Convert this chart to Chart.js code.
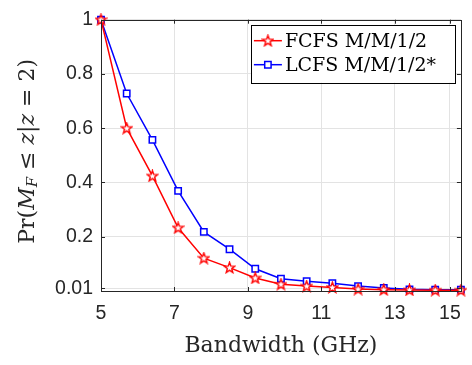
<!DOCTYPE html>
<html>
<head>
<meta charset="utf-8">
<script src="https://cdn.jsdelivr.net/npm/chart.js@4/dist/chart.umd.min.js"></script>
<style>
  html, body { margin: 0; padding: 0; background: #fff; }
  #wrap { width: 472px; height: 365px; }
</style>
</head>
<body>
<div id="wrap"><canvas id="myChart"></canvas></div>
<script>
// bandwidth (GHz) and probabilities
const bandwidth = [5, 5.7, 6.4, 7.1, 7.8, 8.5, 9.2, 9.9, 10.6, 11.3, 12, 12.7, 13.4, 14.1, 14.8];
const fcfs = [1, 0.6, 0.424, 0.233, 0.121, 0.086, 0.048, 0.025, 0.018, 0.013, 0.007, 0.005, 0.004, 0.003, 0.003];
const lcfs = [1, 0.728, 0.557, 0.369, 0.218, 0.154, 0.082, 0.045, 0.036, 0.029, 0.018, 0.011, 0.006, 0.005, 0.005];
const xTicks = [5, 7, 9, 11, 13, 14.5];
const yTicks = [0.01, 0.2, 0.4, 0.6, 0.8, 1];
const seriesNames = ['FCFS M/M/1/2', 'LCFS M/M/1/2*'];

const axisColor = '#262626';
const gridColor = '#e3e3e3';

function starImage(color) {
  const c = document.createElement('canvas');
  c.width = 13; c.height = 13;
  const g = c.getContext('2d');
  g.beginPath();
  for (let i = 0; i < 10; i++) {
    const r = i % 2 === 0 ? 5.6 : 2.3;
    const a = -Math.PI / 2 + i * Math.PI / 5;
    const px = 6.5 + r * Math.cos(a), py = 6.8 + r * Math.sin(a);
    if (i === 0) g.moveTo(px, py); else g.lineTo(px, py);
  }
  g.closePath();
  g.fillStyle = '#fff';
  g.fill();
  g.strokeStyle = color;
  g.lineWidth = 1.4;
  g.stroke();
  return c;
}
const redStar = starImage('#ff0000');

const boxPlugin = {
  id: 'box',
  afterDraw(chart) {
    const ctx = chart.ctx;
    const a = chart.chartArea;
    const xs = chart.scales.x, ys = chart.scales.y;
    ctx.save();
    // inward ticks
    ctx.strokeStyle = axisColor;
    ctx.lineWidth = 1;
    ctx.beginPath();
    xTicks.forEach(v => {
      const px = Math.round(xs.getPixelForValue(v)) + 0.5;
      ctx.moveTo(px, a.bottom); ctx.lineTo(px, a.bottom - 4);
      ctx.moveTo(px, a.top); ctx.lineTo(px, a.top + 4);
    });
    yTicks.forEach(v => {
      const py = Math.round(ys.getPixelForValue(v)) + 0.5;
      ctx.moveTo(a.left, py); ctx.lineTo(a.left + 4, py);
      ctx.moveTo(a.right, py); ctx.lineTo(a.right - 4, py);
    });
    ctx.stroke();
    ctx.strokeRect(Math.round(a.left) + 0.5, Math.round(a.top) + 0.5,
      Math.round(a.right - a.left), Math.round(a.bottom - a.top));

    // legend
    const lx = a.right - 210, ly = a.top + 5, lw = 204, lh = 58;
    ctx.fillStyle = '#fff';
    ctx.fillRect(lx, ly, lw, lh);
    ctx.strokeStyle = '#000';
    ctx.strokeRect(Math.round(lx) + 0.5, Math.round(ly) + 0.5, lw, lh);
    ctx.textBaseline = 'middle';
    ctx.textAlign = 'left';
    chart.data.datasets.forEach((ds, i) => {
      const cy = ly + 16 + i * 24;
      ctx.strokeStyle = ds.borderColor;
      ctx.lineWidth = 1.5;
      ctx.beginPath();
      ctx.moveTo(lx + 3, cy); ctx.lineTo(lx + 31, cy);
      ctx.stroke();
      ctx.fillStyle = '#fff';
      Chart.helpers.drawPoint(ctx, {
        pointStyle: ds.pointStyle, radius: ds.pointRadius, rotation: 0,
        borderWidth: ds.pointBorderWidth
      }, lx + 17, cy);
      ctx.fillStyle = '#000';
      ctx.font = '19px "DejaVu Serif"';
      ctx.fillText(seriesNames[i], lx + 34, cy + 1);
    });

    // y axis title with math italics
    const base = '22px "DejaVu Serif"';
    const ital = 'italic 22px "DejaVu Serif"';
    const sub = 'italic 15px "DejaVu Serif"';
    const parts = [
      { t: 'Pr(', f: base }, { t: 'M', f: ital }, { t: 'F', f: sub, dy: 5 },
      { t: ' \u2264 ', f: base }, { t: 'z', f: ital }, { t: '|', f: base },
      { t: 'z', f: ital }, { t: ' = 2)', f: base }
    ];
    let total = 0;
    parts.forEach(p => { ctx.font = p.f; p.w = ctx.measureText(p.t).width; total += p.w; });
    ctx.translate(28, (a.top + a.bottom) / 2 - 4);
    ctx.rotate(-Math.PI / 2);
    ctx.fillStyle = axisColor;
    ctx.textBaseline = 'middle';
    let x = -total / 2;
    parts.forEach(p => {
      ctx.font = p.f;
      ctx.fillText(p.t, x, p.dy || 0);
      x += p.w;
    });
    ctx.restore();
  }
};

const ctx = document.getElementById('myChart');

const datasets = [
  {
    label: seriesNames[0],
    data: bandwidth.map((b, i) => ({ x: b, y: fcfs[i] })),
    borderColor: '#ff0000',
    backgroundColor: '#ffffff',
    borderWidth: 1.5,
    pointStyle: redStar,
    pointRadius: 6,
    pointBorderWidth: 1.4,
    clip: false
  },
  {
    label: seriesNames[1],
    data: bandwidth.map((b, i) => ({ x: b, y: lcfs[i] })),
    borderColor: '#0000ff',
    backgroundColor: '#ffffff',
    pointBackgroundColor: '#ffffff',
    pointBorderColor: '#0000ff',
    borderWidth: 1.5,
    pointStyle: 'rect',
    pointRadius: 4.5,
    pointBorderWidth: 1.5,
    clip: false
  }
];

new Chart(ctx, {
  type: 'line',
  data: { datasets: datasets },
  options: {
    responsive: true,
    maintainAspectRatio: false,
    animation: false,
    layout: { padding: { left: 0, right: 9, top: 7, bottom: 0 } },
    scales: {
      x: {
        type: 'linear',
        min: 5,
        max: 14.8,
        afterBuildTicks: s => { s.ticks = xTicks.map(v => ({ value: v })); },
        afterFit: s => { s.height = 74; },
        ticks: {
          autoSkip: false,
          maxRotation: 0,
          padding: 11,
          color: axisColor,
          font: { family: '"Liberation Sans"', size: 19.5 },
          callback: v => String(Math.round(v))
        },
        grid: { color: gridColor, drawTicks: false },
        border: { display: false },
        title: {
          display: true,
          text: 'Bandwidth (GHz)',
          color: axisColor,
          font: { family: '"DejaVu Serif"', size: 22 },
          padding: { top: 0, bottom: 6 }
        }
      },
      y: {
        min: 0,
        max: 1,
        afterBuildTicks: s => { s.ticks = yTicks.map(v => ({ value: v })); },
        afterFit: s => { s.width = 101; },
        ticks: {
          padding: 8,
          color: axisColor,
          font: { family: '"Liberation Sans"', size: 19.5 },
          callback: v => String(v)
        },
        grid: { color: gridColor, drawTicks: false },
        border: { display: false }
      }
    },
    plugins: {
      legend: { display: false },
      tooltip: { enabled: false }
    }
  },
  plugins: [boxPlugin]
});
</script>
</body>
</html>
